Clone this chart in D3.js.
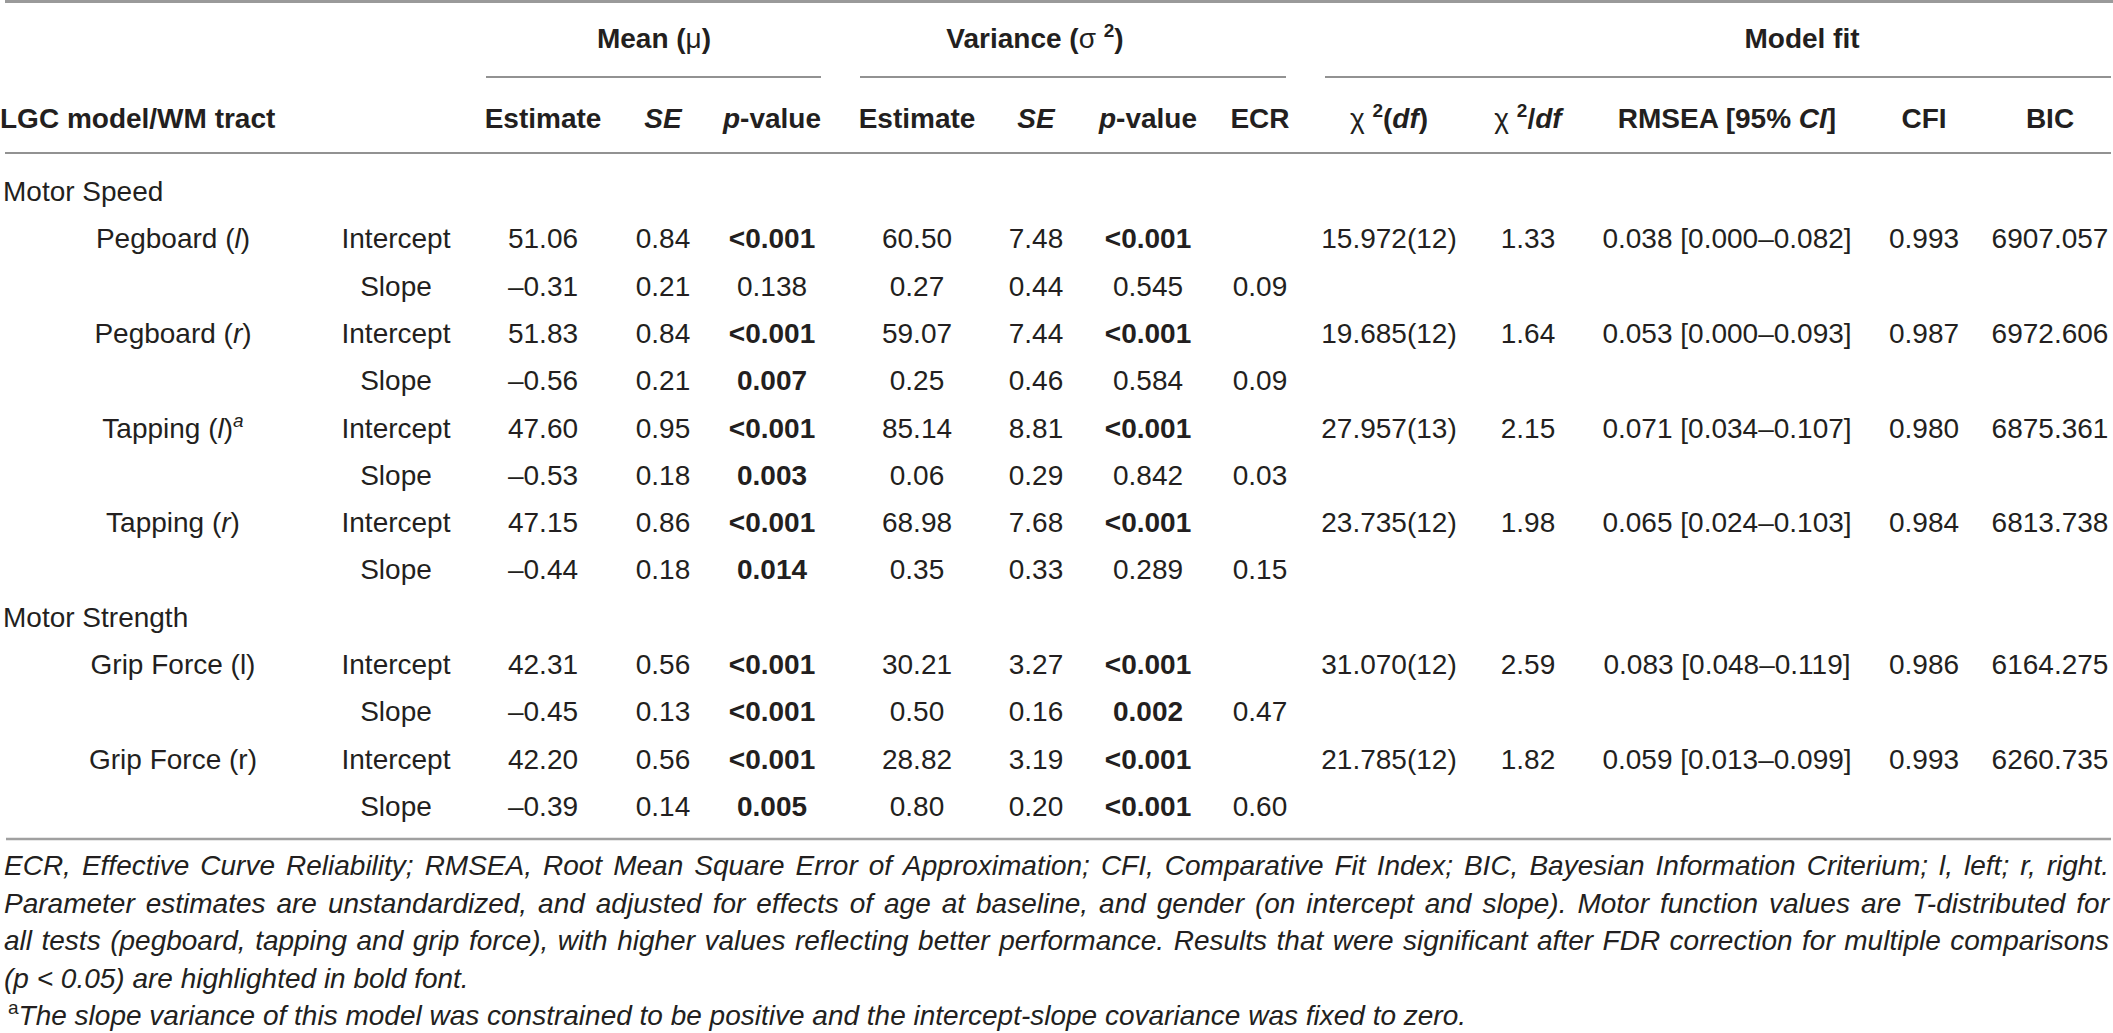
<!DOCTYPE html>
<html>
<head>
<meta charset="utf-8">
<script src="https://cdn.jsdelivr.net/npm/d3@7"></script>
<style>
  body { margin: 0; background: #fff; }
  svg { display: block; }
  text { font-family: "Liberation Sans", Arial, Helvetica, sans-serif; font-size: 28px; fill: #231f20; }
</style>
</head>
<body>
<svg></svg>
<script>
// markup in labels: *italic*, ^superscript^, ~normal weight~
const groups = ['Motor Speed', 'Motor Strength'];
const tracts = ['Pegboard (*l*)', 'Pegboard (*r*)', 'Tapping (*l*)^*a*^', 'Tapping (*r*)', 'Grip Force (l)', 'Grip Force (r)'];
const tractGroup = [0, 0, 0, 0, 1, 1];
const params = ['Intercept', 'Slope'];

// [intercept, slope] per tract
const meanEst = [[51.06, -0.31], [51.83, -0.56], [47.60, -0.53], [47.15, -0.44], [42.31, -0.45], [42.20, -0.39]];
const meanSE = [[0.84, 0.21], [0.84, 0.21], [0.95, 0.18], [0.86, 0.18], [0.56, 0.13], [0.56, 0.14]];
const meanP = [['<0.001', '0.138'], ['<0.001', '0.007'], ['<0.001', '0.003'], ['<0.001', '0.014'], ['<0.001', '<0.001'], ['<0.001', '0.005']];
const varEst = [[60.50, 0.27], [59.07, 0.25], [85.14, 0.06], [68.98, 0.35], [30.21, 0.50], [28.82, 0.80]];
const varSE = [[7.48, 0.44], [7.44, 0.46], [8.81, 0.29], [7.68, 0.33], [3.27, 0.16], [3.19, 0.20]];
const varP = [['<0.001', '0.545'], ['<0.001', '0.584'], ['<0.001', '0.842'], ['<0.001', '0.289'], ['<0.001', '0.002'], ['<0.001', '<0.001']];
const ecr = [0.09, 0.09, 0.03, 0.15, 0.47, 0.60];

// model fit, one per tract
const chi2 = [15.972, 19.685, 27.957, 23.735, 31.070, 21.785];
const dfs = [12, 12, 13, 12, 12, 12];
const chi2df = [1.33, 1.64, 2.15, 1.98, 2.59, 1.82];
const rmsea = [0.038, 0.053, 0.071, 0.065, 0.083, 0.059];
const rmseaLo = [0.000, 0.000, 0.034, 0.024, 0.048, 0.013];
const rmseaHi = [0.082, 0.093, 0.107, 0.103, 0.119, 0.099];
const cfi = [0.993, 0.987, 0.980, 0.984, 0.986, 0.993];
const bic = [6907.057, 6972.606, 6875.361, 6813.738, 6164.275, 6260.735];

const spanHeads = ['Mean (~μ~)', 'Variance (~σ~ ^2^)', 'Model fit'];
const colKeys = ['mEst', 'mSE', 'mP', 'vEst', 'vSE', 'vP', 'ecr', 'chi', 'chidf', 'rmsea', 'cfi', 'bic'];
const colHeads = ['Estimate', '*SE*', '*p*-value', 'Estimate', '*SE*', '*p*-value', 'ECR',
  '~χ~ ^2^(*df*)', '~χ~ ^2^/*df*', 'RMSEA [95% *CI*]', 'CFI', 'BIC'];

// footnotes: the whole block is italic, so *..* here switches back to upright
const notes = [
  'ECR, Effective Curve Reliability; RMSEA, Root Mean Square Error of Approximation; CFI, Comparative Fit Index; BIC, Bayesian Information Criterium; l, left; r, right.',
  'Parameter estimates are unstandardized, and adjusted for effects of age at baseline, and gender (on intercept and slope). Motor function values are T-distributed for',
  'all tests (pegboard, tapping and grip force), with higher values reflecting better performance. Results that were significant after FDR correction for multiple comparisons',
  '(p < 0.05) are highlighted in bold font.',
  '^*a*^The slope variance of this model was constrained to be positive and the intercept-slope covariance was fixed to zero.'
];
const justified = [true, true, true, false, false];

// ---- layout
const width = 2113, height = 1033;
const svg = d3.select('svg').attr('width', width).attr('height', height);

const x = d3.scaleOrdinal()
  .domain(['tract', 'param'].concat(colKeys))
  .range([173, 396, 543, 663, 772, 917, 1036, 1148, 1260, 1389, 1528, 1727, 1924, 2050]);
const y = d3.scaleLinear().domain([0, 1]).range([201, 248.3]);
const noteY = d3.scaleLinear().domain([0, 1]).range([875, 912.5]);

const f2 = v => d3.format('.2f')(v).replace('−', '–');
const f3 = d3.format('.3f');
const sig = p => p.startsWith('<') || +p < 0.05;

function rich(sel, str, inverse) {
  let it = false, sup = false, norm = false, buf = '';
  const runs = [];
  for (const ch of str) {
    if (ch === '*' || ch === '^' || ch === '~') {
      if (buf) runs.push({ t: buf, it, sup, norm });
      buf = '';
      if (ch === '*') it = !it;
      else if (ch === '^') sup = !sup;
      else norm = !norm;
    } else buf += ch;
  }
  if (buf) runs.push({ t: buf, it, sup, norm });
  let raised = false;
  runs.forEach(r => {
    const ts = sel.append('tspan').text(r.t);
    if (r.it) ts.attr('font-style', inverse ? 'normal' : 'italic');
    if (r.norm) ts.attr('font-weight', 'normal');
    if (r.sup) {
      ts.attr('font-size', 19);
      if (!raised) { ts.attr('dy', -11); raised = true; }
    } else if (raised) {
      ts.attr('dy', 11);
      raised = false;
    }
  });
  return sel;
}

function cell(px, py, str, anchor, bold) {
  const t = svg.append('text')
    .attr('x', px).attr('y', py)
    .attr('text-anchor', anchor || 'middle');
  if (bold) t.attr('font-weight', 'bold');
  return rich(t, str);
}

function rule(x1, x2, yy, color, w) {
  svg.append('line')
    .attr('x1', x1).attr('x2', x2).attr('y1', yy).attr('y2', yy)
    .attr('stroke', color).attr('stroke-width', w);
}

// rules
rule(5, width, 1.5, '#9a9a9a', 3);
rule(486, 821, 77, '#6e6e6e', 1.6);
rule(860, 1286, 77, '#6e6e6e', 1.6);
rule(1325, 2111, 77, '#6e6e6e', 1.6);
rule(5, 2111, 153, '#6e6e6e', 1.6);
rule(6, 2111, 839, '#a0a0a0', 2.5);

// header
const spanX = [654, 1035, 1802];
spanHeads.forEach((h, i) => cell(spanX[i], 48, h, 'middle', true));
cell(0, 128, 'LGC model/WM tract', 'start', true);
colKeys.forEach((k, i) => cell(x(k), 128, colHeads[i], 'middle', true));

// body rows
const rows = [];
groups.forEach((g, gi) => {
  rows.push({ type: 'group', label: g });
  tracts.forEach((t, ti) => {
    if (tractGroup[ti] !== gi) return;
    params.forEach((p, pi) => rows.push({ type: 'param', ti, pi }));
  });
});

rows.forEach((r, i) => {
  const yy = y(i);
  if (r.type === 'group') {
    cell(3, yy, r.label, 'start');
    return;
  }
  const { ti, pi } = r;
  if (pi === 0) cell(x('tract'), yy, tracts[ti]);
  cell(x('param'), yy, params[pi]);
  cell(x('mEst'), yy, f2(meanEst[ti][pi]));
  cell(x('mSE'), yy, f2(meanSE[ti][pi]));
  cell(x('mP'), yy, meanP[ti][pi], 'middle', sig(meanP[ti][pi]));
  cell(x('vEst'), yy, f2(varEst[ti][pi]));
  cell(x('vSE'), yy, f2(varSE[ti][pi]));
  cell(x('vP'), yy, varP[ti][pi], 'middle', sig(varP[ti][pi]));
  if (pi === 1) cell(x('ecr'), yy, f2(ecr[ti]));
  if (pi === 0) {
    cell(x('chi'), yy, `${f3(chi2[ti])}(${dfs[ti]})`);
    cell(x('chidf'), yy, f2(chi2df[ti]));
    cell(x('rmsea'), yy, `${f3(rmsea[ti])} [${f3(rmseaLo[ti])}–${f3(rmseaHi[ti])}]`);
    cell(x('cfi'), yy, f3(cfi[ti]));
    cell(x('bic'), yy, f3(bic[ti]));
  }
});

// footnotes, first three lines justified word by word
const noteL = 4, noteR = 2109;
const measure = svg.append('text').attr('font-style', 'italic').attr('opacity', 0);
notes.forEach((line, i) => {
  const yy = noteY(i);
  if (!justified[i]) {
    const startX = line.startsWith('^') ? 8 : noteL;
    const t = svg.append('text').attr('x', startX).attr('y', yy).attr('font-style', 'italic');
    rich(t, line, true);
    return;
  }
  const words = line.split(' ');
  const ws = words.map(w => { measure.text(w); return measure.node().getComputedTextLength(); });
  const gap = (noteR - noteL - d3.sum(ws)) / (words.length - 1);
  let px = noteL;
  words.forEach((w, j) => {
    svg.append('text').attr('x', px).attr('y', yy)
      .attr('font-style', 'italic').text(w);
    px += ws[j] + gap;
  });
});
measure.remove();
</script>
</body>
</html>
